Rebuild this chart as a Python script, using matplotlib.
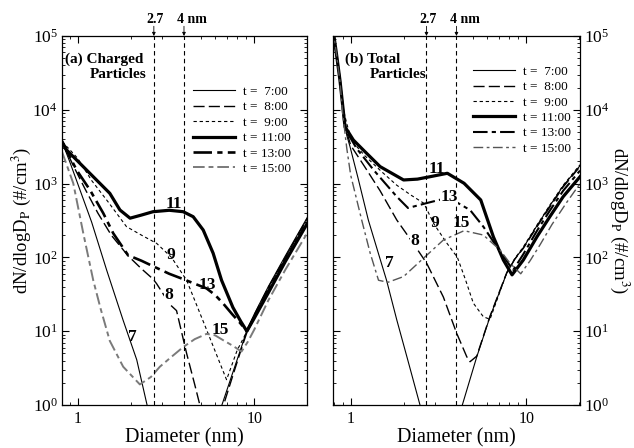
import matplotlib
matplotlib.use("Agg")
import matplotlib.pyplot as plt
from matplotlib.lines import Line2D
from matplotlib.ticker import LogLocator, FixedLocator, NullFormatter, FixedFormatter, LogFormatterSciNotation

plt.rcParams['font.family'] = ['Liberation Serif', 'DejaVu Serif']
plt.rcParams['mathtext.fontset'] = 'stix'

# ---------------- data: panel (a) Charged particles ----------------
a7_d = [0.815, 0.9, 1.0, 1.2, 1.46, 1.81, 2.16, 2.46, 2.6, 6.3, 6.56, 7.5, 8.5, 9.1, 10, 12, 15, 20]
a7_n = [3700, 2000, 1000, 300, 67, 14, 4.1, 1.05, 0.6, 0.75, 1.0, 2.6, 6.3, 10.5, 17, 40, 105, 350]
a8_d = [0.815, 0.95, 1.1, 1.3, 1.55, 1.93, 2.3, 2.67, 2.8, 3.33, 3.63, 4.14, 4.6, 4.92, 5.2, 6.4, 6.7, 7.6, 8.5, 9.2, 10, 12, 15, 20]
a8_n = [3700, 1700, 850, 400, 200, 105, 70, 51, 44, 23, 19, 5.0, 1.9, 1.0, 0.6, 0.75, 1.0, 2.6, 6.0, 10.5, 16.5, 39, 100, 340]
a9_d = [0.815, 0.9, 1.0, 1.2, 1.5, 1.89, 2.3, 2.8, 3.4, 4.14, 5.25, 6.97, 8.0, 9.1, 10, 12, 15, 20]
a9_n = [3700, 2900, 2200, 1100, 550, 261, 200, 155, 100, 49, 12, 2.2, 5.5, 10, 16, 38, 100, 330]
a11_d = [0.815, 0.866, 1.03, 1.225, 1.52, 1.735, 1.98, 2.3, 2.67, 3.3, 3.96, 4.51, 5.14, 5.85, 6.53, 7.57, 8.4, 9.08, 10, 12, 15, 20]
a11_n = [3700, 2850, 1880, 1240, 739, 439, 340, 375, 416, 435, 416, 356, 235, 114, 49, 21, 13.5, 10, 15, 33, 88, 290]
a13_d = [0.815, 0.987, 1.174, 1.396, 1.59, 1.93, 2.3, 2.67, 3.3, 3.94, 4.6, 5.37, 6.0, 6.64, 7.5, 8.3, 9.08, 10, 12, 15, 20]
a13_n = [3700, 1520, 819, 397, 212, 107, 90, 76, 60, 51, 44, 38, 31, 24, 17, 13, 10, 15.5, 35, 92, 300]
a15_d = [0.815, 0.944, 1.076, 1.225, 1.35, 1.52, 1.81, 2.25, 2.6, 2.92, 3.4, 3.96, 4.6, 5.37, 6.0, 6.64, 7.6, 8.47, 9.2, 10, 12, 15, 20]
a15_n = [2700, 1010, 212, 49, 20, 7.4, 3.3, 1.9, 2.4, 3.3, 4.5, 6.1, 7.8, 9.2, 8.8, 7.6, 6.3, 5.3, 7.2, 10.5, 26, 68, 215]

# ---------------- data: panel (b) Total particles ----------------
b7_d = [0.79, 0.83, 0.869, 0.9, 0.95, 0.99, 1.1, 1.26, 1.44, 1.6, 1.83, 2.1, 2.48, 2.65, 4.1, 4.32, 5.22, 6.21, 7.73, 8.6, 9.6, 11.5, 13.6, 16.2, 20.2]
b7_n = [1.3e5, 5.7e4, 2.5e4, 1.1e4, 4500, 3200, 1200, 321, 112, 49, 14.2, 4.3, 1.0, 0.6, 0.7, 1.0, 4.5, 15.7, 61, 95, 135, 270, 500, 930, 1750]
b8_d = [0.79, 0.83, 0.869, 0.9, 0.95, 1.0, 1.2, 1.47, 1.83, 2.27, 2.71, 3.37, 4.01, 4.58, 4.78, 5.22, 6.21, 7.73, 8.6, 9.6, 11.5, 13.6, 16.2, 20.2]
b8_n = [1.3e5, 5.7e4, 2.5e4, 1.1e4, 5000, 3300, 1700, 800, 321, 155, 83, 29, 9.4, 4.5, 3.86, 4.6, 16, 62, 95, 132, 260, 480, 900, 1700]
b9_d = [0.79, 0.83, 0.869, 0.9, 0.95, 1.0, 1.08, 1.2, 1.5, 1.83, 2.2, 2.61, 2.98, 3.5, 4.05, 4.5, 4.99, 5.69, 6.21, 7.0, 7.73, 8.6, 9.6, 11.5, 13.6, 16.2, 20.2]
b9_n = [1.3e5, 5.7e4, 2.5e4, 1.1e4, 6500, 4200, 3200, 2400, 1450, 950, 700, 541, 283, 160, 100, 50, 24, 15.7, 14.5, 32, 62, 97, 138, 275, 510, 950, 1800]
b11_d = [0.79, 0.83, 0.869, 0.928, 1.035, 1.18, 1.47, 2.0, 2.4, 2.83, 3.55, 4.42, 5.5, 6.49, 7.4, 8.29, 9.6, 11.5, 13.6, 16.2, 20.2]
b11_n = [1.3e5, 5.7e4, 2.5e4, 5900, 3900, 2850, 1700, 1120, 1150, 1240, 1380, 1010, 600, 190, 92, 58, 92, 191, 356, 665, 1240]
b13_d = [0.79, 0.83, 0.869, 0.93, 1.08, 1.35, 1.83, 2.12, 2.72, 3.53, 4.0, 4.78, 5.69, 6.78, 7.9, 8.4, 9.6, 11.5, 13.6, 16.2, 20.2]
b13_n = [1.3e5, 5.7e4, 2.5e4, 5500, 3000, 1530, 665, 467, 546, 638, 560, 439, 261, 140, 83, 67, 110, 230, 430, 800, 1500]
b15_d = [0.79, 0.83, 0.869, 0.9, 0.95, 1.0, 1.155, 1.29, 1.44, 1.63, 2.0, 2.59, 3.37, 4.42, 5.69, 7.08, 8.08, 9.29, 10.5, 12, 14, 17, 20.2]
b15_n = [1.3e5, 5.7e4, 2.4e4, 9000, 3000, 1300, 321, 115, 49, 46, 55, 97, 172, 230, 201, 126, 83, 60, 90, 150, 280, 560, 1000]

legend_labels = ['t =  7:00', 't =  8:00', 't =  9:00', 't = 11:00', 't = 13:00', 't = 15:00']
ytick_vals = [1, 10, 100, 1000, 10000, 100000]
xtick_vals = [1, 10]
xtick_labels = ['1', '10']
marker_sizes = [2.7, 4.0]

# curve labels: (text, D, N, white background)
a_labels = [('11', 3.51, 530, False), ('9', 3.37, 108, False), ('13', 5.39, 42, False),
            ('8', 3.29, 31, True), ('15', 6.39, 10.4, False), ('7', 2.03, 8.3, False)]
b_labels = [('11', 3.10, 1600, False), ('13', 3.63, 660, True), ('9', 3.02, 290, False),
            ('15', 4.25, 290, False), ('8', 2.32, 167, True), ('7', 1.65, 84, False)]

styles_a = [dict(color='k', lw=0.8, ls='-'),
            dict(color='k', lw=1.0, dashes=(8, 3)),
            dict(color='k', lw=0.8, dashes=(3, 2.5)),
            dict(color='k', lw=2.3, ls='-'),
            dict(color='k', lw=1.9, dashes=(7, 2, 2, 2)),
            dict(color='#7a7a7a', lw=1.4, dashes=(6, 2, 2.5, 2))]
styles_b = [dict(color='k', lw=0.8, ls='-'),
            dict(color='k', lw=1.0, dashes=(8, 3)),
            dict(color='k', lw=0.8, dashes=(3, 2.5)),
            dict(color='k', lw=2.3, ls='-'),
            dict(color='k', lw=1.5, dashes=(7, 2, 2, 2)),
            dict(color='#555555', lw=1.0, dashes=(7, 2.5, 2, 2.5))]

W, H = 634, 448
fig = plt.figure(figsize=(W / 100, H / 100), dpi=100)
axA = fig.add_axes([62 / W, 1 - 405 / H, 245 / W, 369 / H])
axB = fig.add_axes([333 / W, 1 - 405 / H, 247 / W, 369 / H])

curves_a = [(a7_d, a7_n), (a8_d, a8_n), (a9_d, a9_n), (a11_d, a11_n), (a13_d, a13_n), (a15_d, a15_n)]
curves_b = [(b7_d, b7_n), (b8_d, b8_n), (b9_d, b9_n), (b11_d, b11_n), (b13_d, b13_n), (b15_d, b15_n)]


def setup(ax, xlim, right_labels, styles, curves, labels, title, title2, leg_anchor, title_xy):
    ax.set_xscale('log')
    ax.set_yscale('log')
    ax.set_xlim(*xlim)
    ax.set_ylim(1, 1e5)
    for (d, n), st in zip(curves, styles):
        ax.plot(d, n, **st)
    for x in marker_sizes:
        ax.axvline(x, color='k', lw=0.8, dashes=(4, 3))
        ax.annotate('', xy=(x, 1.0), xycoords=('data', 'axes fraction'),
                    xytext=(0, 7), textcoords='offset points',
                    arrowprops=dict(arrowstyle='-|>', lw=0.6, color='k', mutation_scale=5,
                                    shrinkA=0, shrinkB=0), annotation_clip=False)
    ax.annotate('2.7', xy=(2.7, 1.0), xycoords=('data', 'axes fraction'), xytext=(1, 7.5),
                textcoords='offset points', ha='center', va='bottom', fontsize=10, fontweight='bold')
    ax.annotate('4 nm', xy=(4.0, 1.0), xycoords=('data', 'axes fraction'), xytext=(-5, 7.5),
                textcoords='offset points', ha='left', va='bottom', fontsize=10, fontweight='bold')
    for t, x, y, bg in labels:
        kw = dict(bbox=dict(facecolor='white', edgecolor='none', pad=0.2)) if bg else {}
        ax.text(x, y, t, fontsize=12.5, fontweight='bold', ha='center', va='center', **kw)
    ax.yaxis.set_major_locator(FixedLocator(ytick_vals))
    ax.yaxis.set_major_formatter(LogFormatterSciNotation())
    ax.yaxis.set_minor_locator(LogLocator(base=10, subs=range(2, 10), numticks=20))
    ax.yaxis.set_minor_formatter(NullFormatter())
    ax.xaxis.set_major_locator(FixedLocator(xtick_vals))
    ax.xaxis.set_major_formatter(FixedFormatter(xtick_labels))
    ax.xaxis.set_minor_locator(LogLocator(base=10, subs=range(2, 10), numticks=20))
    ax.xaxis.set_minor_formatter(NullFormatter())
    ax.tick_params(which='both', direction='in', top=True, right=True, left=True, bottom=True)
    ax.tick_params(which='major', length=5, width=0.8)
    ax.tick_params(which='minor', length=2.5, width=0.6)
    ax.tick_params(axis='x', labelsize=11.5, pad=4)
    ax.tick_params(axis='y', labelsize=12.5, pad=3)
    ylab = r'dN/dlogD$_\mathrm{P}$ (#/cm$^3$)'
    if right_labels:
        ax.tick_params(axis='y', labelleft=False, labelright=True)
        ax.yaxis.set_label_position('right')
        ax.set_ylabel(ylab, fontsize=13.5, rotation=270, labelpad=16)
    else:
        ax.set_ylabel(ylab, fontsize=13.5)
        ax.yaxis.set_label_coords(-0.118, 0.5)
    ax.set_xlabel('Diameter (nm)', fontsize=14.5, labelpad=1)
    for s in ax.spines.values():
        s.set_linewidth(0.9)
    handles = [Line2D([], [], **st) for st in styles]
    ax.legend(handles, legend_labels, loc='upper left', bbox_to_anchor=leg_anchor,
              frameon=False, fontsize=9.5, handlelength=3.2, handletextpad=0.6,
              labelspacing=0.24, borderpad=0, borderaxespad=0)
    tx, ty = title_xy
    ax.text(tx, ty, title, transform=ax.transAxes, fontsize=11, ha='left', va='top', fontweight='bold')
    ax.text(tx + 0.10, ty - 0.042, title2, transform=ax.transAxes, fontsize=11, ha='left', va='top', fontweight='bold')


setup(axA, (0.815, 19.9), False, styles_a, curves_a, a_labels, '(a) Charged', 'Particles',
      (0.535, 0.865), (0.012, 0.955))
setup(axB, (0.793, 20.2), True, styles_b, curves_b, b_labels, '(b) Total', 'Particles',
      (0.565, 0.92), (0.05, 0.955))

fig.savefig('out.png', dpi=100)
